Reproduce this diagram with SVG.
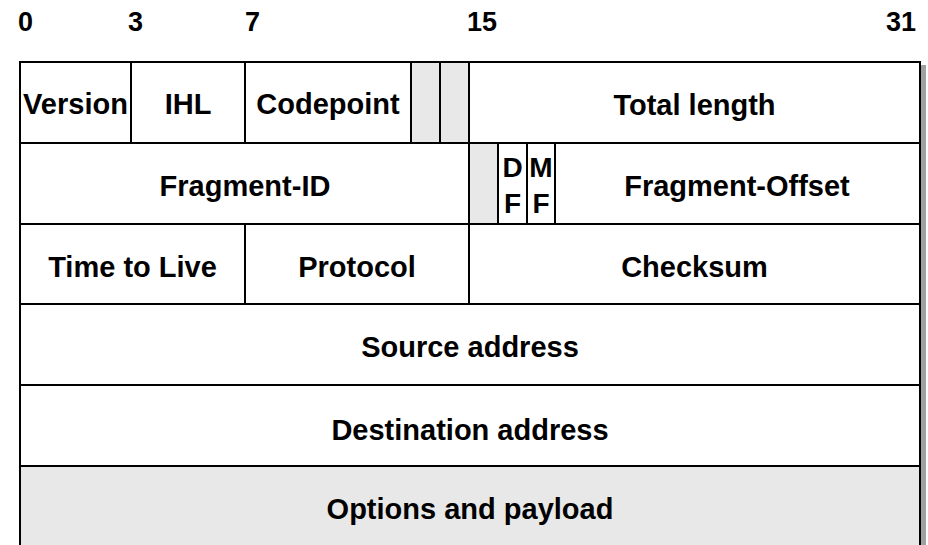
<svg xmlns="http://www.w3.org/2000/svg" width="928" height="545" viewBox="0 0 928 545">
  <style>
    .cell { fill: #ffffff; stroke: #000000; stroke-width: 2; }
    .shade { fill: #e8e8e8; stroke: #000000; stroke-width: 2; }
    .lbl { font-family: "Liberation Sans", Arial, Helvetica, sans-serif; font-weight: bold; font-size: 29px; fill: #000000; text-anchor: middle; }
    .flag { font-family: "Liberation Sans", Arial, Helvetica, sans-serif; font-weight: bold; font-size: 28px; fill: #000000; text-anchor: middle; }
    .bit { font-family: "Liberation Sans", Arial, Helvetica, sans-serif; font-weight: bold; font-size: 27px; fill: #000000; }
  </style>

  <rect width="928" height="545" fill="#ffffff"/>

  <!-- bit positions -->
  <g id="bit-scale">
    <text class="bit" x="18" y="31">0</text>
    <text class="bit" x="128" y="31">3</text>
    <text class="bit" x="245" y="31">7</text>
    <text class="bit" x="467" y="31">15</text>
    <text class="bit" x="886" y="31">31</text>
  </g>

  <!-- drop shadow along the right edge -->
  <rect x="921" y="65" width="5" height="485" fill="#a0a0a0"/>

  <!-- word 1 -->
  <g id="version"><rect class="cell" x="20" y="62" width="111" height="81"/><text class="lbl" x="75.5" y="114">Version</text></g>
  <g id="ihl"><rect class="cell" x="131" y="62" width="114" height="81"/><text class="lbl" x="188" y="114">IHL</text></g>
  <g id="codepoint"><rect class="cell" x="245" y="62" width="166" height="81"/><text class="lbl" x="328" y="114">Codepoint</text></g>
  <g id="reserved-1"><rect class="shade" x="411" y="62" width="29" height="81"/></g>
  <g id="reserved-2"><rect class="shade" x="440" y="62" width="29" height="81"/></g>
  <g id="total-length"><rect class="cell" x="469" y="62" width="451" height="81"/><text class="lbl" x="694.5" y="115">Total length</text></g>

  <!-- word 2 -->
  <g id="fragment-id"><rect class="cell" x="20" y="143" width="449" height="81"/><text class="lbl" x="245" y="196">Fragment-ID</text></g>
  <g id="flag-reserved"><rect class="shade" x="469" y="143" width="29" height="81"/></g>
  <g id="flag-df"><rect class="cell" x="498" y="143" width="29" height="81"/><text class="flag" x="512.5" y="177">D</text><text class="flag" x="512.5" y="213">F</text></g>
  <g id="flag-mf"><rect class="cell" x="527" y="143" width="28" height="81"/><text class="flag" x="541" y="177">M</text><text class="flag" x="541" y="213">F</text></g>
  <g id="fragment-offset"><rect class="cell" x="555" y="143" width="365" height="81"/><text class="lbl" x="737" y="196">Fragment-Offset</text></g>

  <!-- word 3 -->
  <g id="ttl"><rect class="cell" x="20" y="224" width="225" height="80"/><text class="lbl" x="132.5" y="277">Time to Live</text></g>
  <g id="protocol"><rect class="cell" x="245" y="224" width="224" height="80"/><text class="lbl" x="357" y="277">Protocol</text></g>
  <g id="checksum"><rect class="cell" x="469" y="224" width="451" height="80"/><text class="lbl" x="694.5" y="277">Checksum</text></g>

  <!-- words 4 and 5 -->
  <g id="source-address"><rect class="cell" x="20" y="304" width="900" height="81"/><text class="lbl" x="470" y="357">Source address</text></g>
  <g id="destination-address"><rect class="cell" x="20" y="385" width="900" height="81"/><text class="lbl" x="470" y="440">Destination address</text></g>

  <!-- remainder of the datagram -->
  <g id="options-payload"><rect class="shade" x="20" y="466" width="900" height="90"/><text class="lbl" x="470" y="519">Options and payload</text></g>
</svg>
